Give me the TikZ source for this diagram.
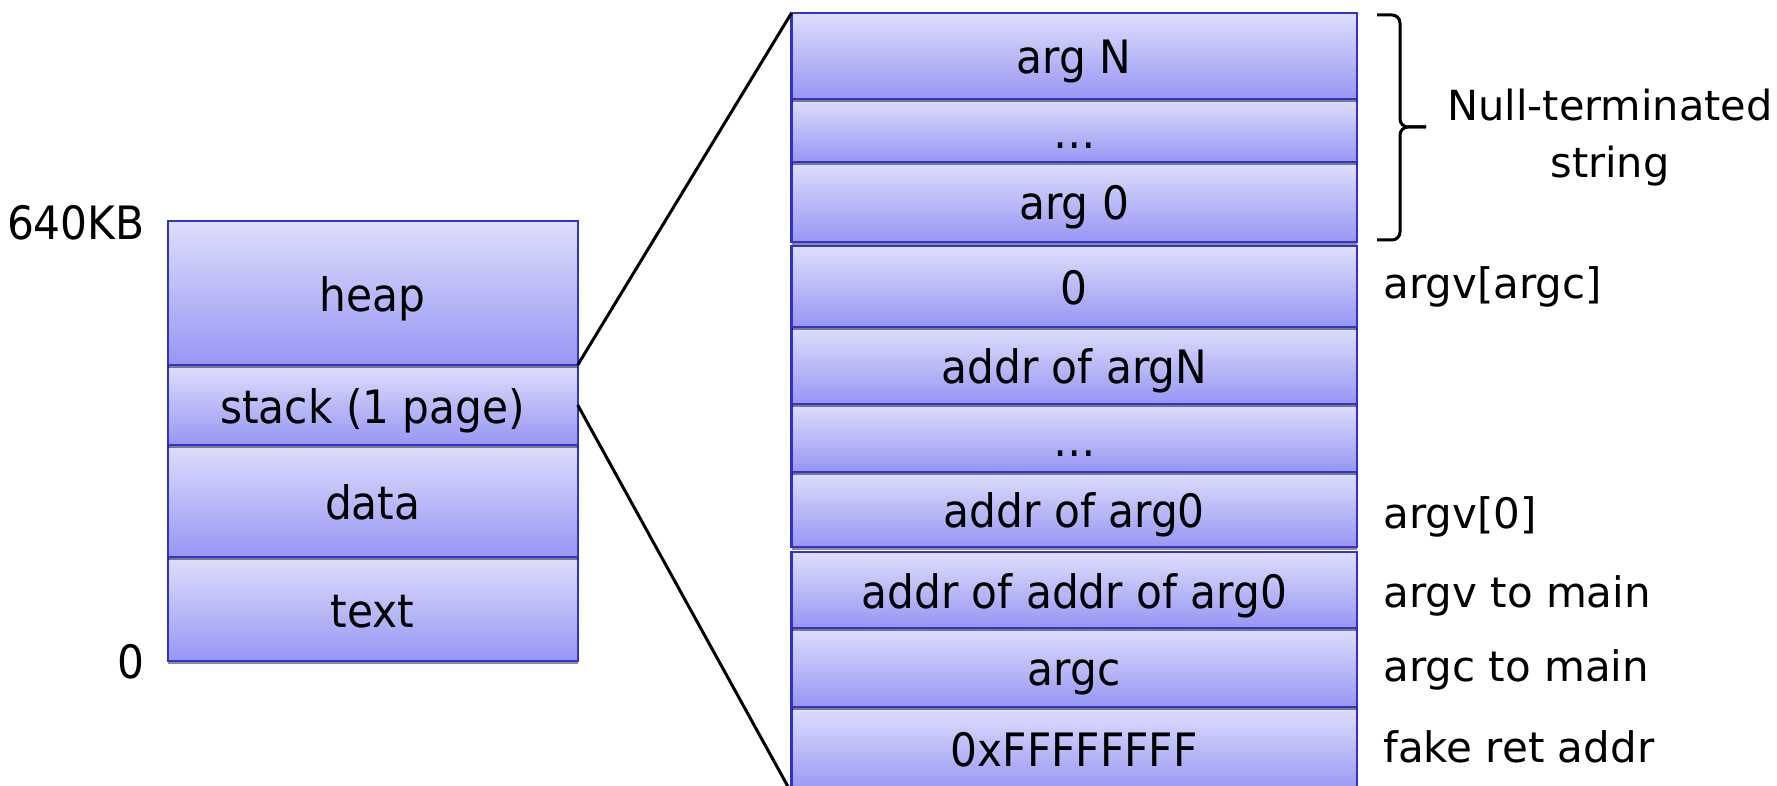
\documentclass[tikz,border=0pt]{standalone}
\usepackage{fontspec}
\setmainfont{DejaVu Sans}
\newfontfamily\cellfont[FakeStretch=0.92]{DejaVu Sans}
\usetikzlibrary{shadows}
\definecolor{celltop}{RGB}{222,222,252}
\definecolor{cellbot}{RGB}{150,150,244}
\definecolor{cellrim}{RGB}{51,51,204}
\begin{document}
\begin{tikzpicture}[x=0.5pt,y=-0.5pt,
  cell/.style={rectangle, draw=cellrim, line width=1.1pt, top color=celltop,
    bottom color=cellbot, inner sep=0pt, outer sep=0pt,
    text height=18pt, text depth=0pt,
    font=\cellfont\fontsize{23}{27}\selectfont,
    drop shadow={shadow xshift=0pt, shadow yshift=-1.5pt, opacity=0.45, fill=black}},
  leftcell/.style={cell, minimum width=205pt},
  rightcell/.style={cell, minimum width=282.75pt},
  addrlabel/.style={anchor=base east, inner sep=0pt, font=\cellfont\fontsize{23}{27}\selectfont},
  note/.style={anchor=base west, inner sep=0pt, font=\fontsize{21}{28.5}\selectfont},
  link/.style={line width=1.5pt, black},
  bracket/.style={line width=1.5pt, black, rounded corners=4pt}]

\useasboundingbox (0,0) rectangle (1777,786);
\clip (0,0) rectangle (1777,786);

% memory layout of the process (drawn bottom-up so shadows fall downward)
\node[leftcell, minimum height=52pt] (text)  at (372.7,609) {text};
\node[leftcell, minimum height=56pt] (data)  at (372.7,501) {data};
\node[leftcell, minimum height=40pt] (stack) at (372.7,405) {stack (1 page)};
\node[leftcell, minimum height=72pt] (heap)  at (372.7,293) {heap};

\node[addrlabel] (hiaddr) at (145,240) {640KB};
\node[addrlabel] (loaddr) at (145,678) {0};

% contents of the stack page
\node[rightcell, minimum height=43pt, text height=16.5pt] (ffff) at (1074.25,750) {0xFFFFFFFF};
\node[rightcell, minimum height=39.5pt] (argc)     at (1074.25,667.5) {argc};
\node[rightcell, minimum height=38pt]   (addraddr) at (1074.25,590)   {addr of addr of arg0};
\node[rightcell, minimum height=37.5pt] (addrzero) at (1074.25,509.5) {addr of arg0};
\node[rightcell, minimum height=34pt]   (ptrdots)  at (1074.25,438)   {…};
\node[rightcell, minimum height=38.5pt] (addrN)    at (1074.25,365.5) {addr of argN};
\node[rightcell, minimum height=40.5pt] (nullptr)  at (1074.25,286.5) {0};
\node[rightcell, minimum height=40pt]   (argzero)  at (1074.25,202)   {arg 0};
\node[rightcell, minimum height=31.5pt] (argdots)  at (1074.25,130.5) {…};
\node[rightcell, minimum height=43pt]   (argN)     at (1074.25,56)    {arg N};

% zoom lines from the stack page to its expanded view
\draw[link] (heap.south east) -- (argN.north west);
\draw[link] (stack.east) -- (ffff.south west);

% brace over the argument strings
\draw[bracket] (1377,15) -- (1400,15) -- (1400,127) -- (1426,127);
\draw[bracket] (1377,240) -- (1400,240) -- (1400,127) -- (1426,127);
\node[align=center, inner sep=0pt, font=\fontsize{20.75}{28.5}\selectfont] (strings) at (1610,138) {Null-terminated\\string};

% annotations
\node[note] (lblend)  at (1383,299) {argv[argc]};
\node[note] (lblzero) at (1383,528) {argv[0]};
\node[note] (lblargv) at (1383,607) {argv to main};
\node[note] (lblargc) at (1383,681) {argc to main};
\node[note] (lblret)  at (1383,762) {fake ret addr};
\end{tikzpicture}
\end{document}
